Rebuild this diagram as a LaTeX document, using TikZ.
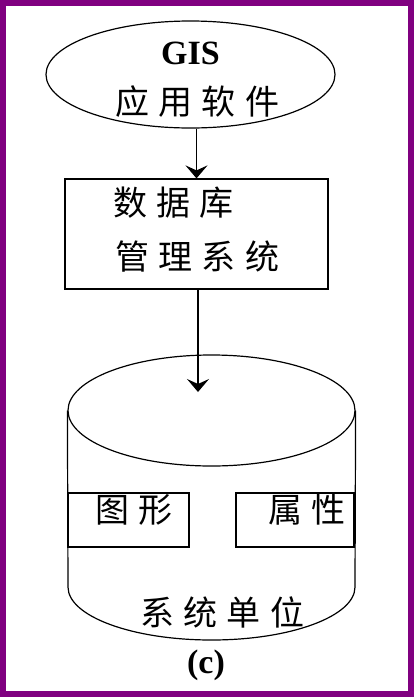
\documentclass[tikz,border=0pt]{standalone}
\usepackage{fontspec}
\setmainfont{Liberation Serif}
\newfontfamily\cjk[LetterSpace=27]{Noto Sans CJK SC}
\usetikzlibrary{shapes.geometric}
\usetikzlibrary{arrows.meta}
\definecolor{frame}{HTML}{800080}

\begin{document}
\begin{tikzpicture}[x=1pt,y=-1pt,line width=1.2pt,
	zh/.style={anchor=west,inner sep=0pt,font=\cjk\fontsize{34}{34}\selectfont},
	en/.style={inner sep=0pt,font=\bfseries\fontsize{34}{34}\selectfont},
	arr/.style={line width=1.6pt,-{Stealth[length=13pt,width=22pt,inset=5pt]}}]
	\fill[frame] (0,0) rectangle (414,697);
	\fill[white] (6,6) rectangle (408,691);
	\useasboundingbox (0,0) rectangle (414,697);

	\node[ellipse,draw,minimum width=289pt,minimum height=107pt](app) at (190.5,74.5) {};
	\node[en](gis) at (190.5,53) {GIS};
	\node[zh](appsw) at (115,102) {应用软件};

	\node[rectangle,draw,minimum width=263pt,minimum height=110pt](dbms) at (196.5,234) {};
	\node[zh](db) at (113,203) {数据库};
	\node[zh](ms) at (115,257) {管理系统};

	\node[ellipse,draw,minimum width=287pt,minimum height=111pt](dbtop) at (211.5,410.5) {};
	\coordinate (dbl) at (68,587);
	\coordinate (dbr) at (355,587);
	\draw (dbtop.west) -- (dbl) arc[start angle=180,end angle=360,x radius=143.5pt,y radius=53pt] -- (dbtop.east);

	\node[rectangle,draw,minimum width=121pt,minimum height=54pt](shape) at (128.5,520) {};
	\node[rectangle,draw,minimum width=118pt,minimum height=54pt](attr) at (295,520) {};
	\node[zh](shapetxt) at (95,510) {图形};
	\node[zh](attrtxt) at (268,510) {属性};
	\node[zh](unit) at (140,612) {系统单位};
	\node[en](cap) at (206,665) {(c)};

	\coordinate (tip) at (198,392);
	\draw[arr] (app.south -| dbms.north) -- (dbms.north);
	\draw[arr] (dbms.south -| tip) -- (tip);
\end{tikzpicture}
\end{document}
